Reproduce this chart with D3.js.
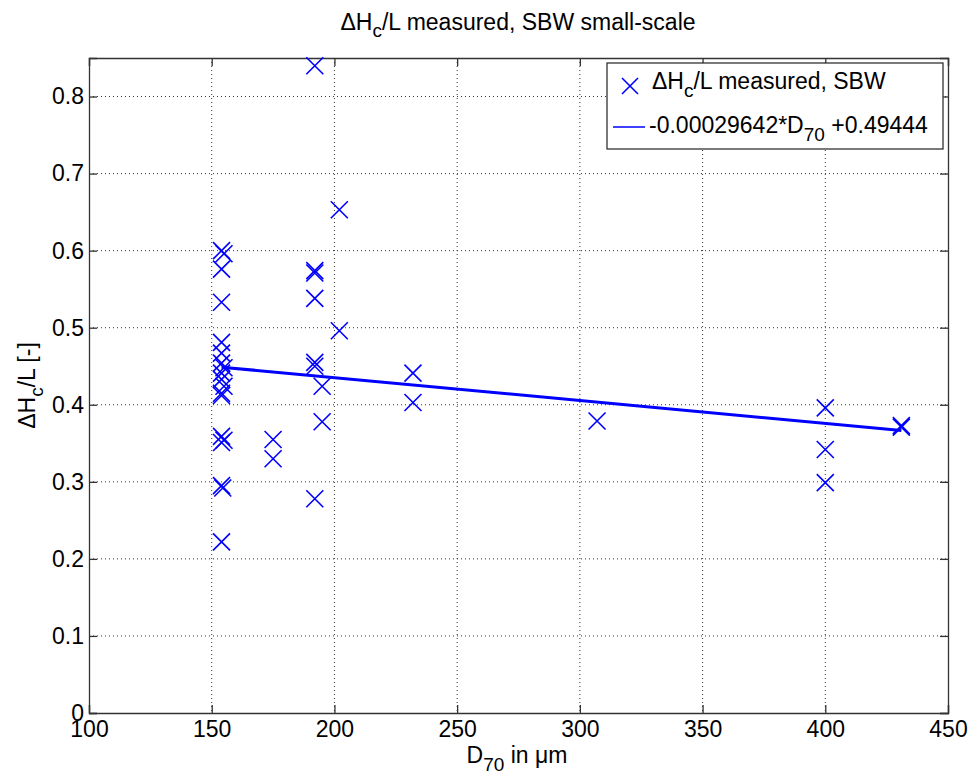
<!DOCTYPE html>
<html>
<head>
<meta charset="utf-8">
<script src="https://cdn.jsdelivr.net/npm/d3@7"></script>
<style>
  body { margin: 0; background: #fff; }
  text { font-family: "Liberation Sans", Arial, sans-serif; fill: #000; }
</style>
</head>
<body>
<svg id="chart" width="971" height="776"></svg>
<script>
// measured points (D70 in um, dHc/L)
var d70 = [154, 155, 154, 154, 154, 154, 154, 155, 154, 154, 155, 154, 154, 154, 155, 154, 154, 154.5, 154,
           175, 175,
           192, 192, 192, 192, 192, 192, 192,
           195, 195,
           202, 202,
           232, 232,
           307,
           400, 400, 400,
           431, 431];
var dhc = [0.600, 0.596, 0.576, 0.533, 0.481, 0.467, 0.454, 0.448, 0.441, 0.433, 0.424, 0.415, 0.412, 0.359, 0.354, 0.351, 0.295, 0.292, 0.222,
           0.355, 0.330,
           0.840, 0.574, 0.571, 0.538, 0.455, 0.450, 0.278,
           0.424, 0.378,
           0.653, 0.496,
           0.441, 0.403,
           0.379,
           0.396, 0.342, 0.299,
           0.373, 0.371];
var fitSlope = -0.00029642;
var fitIntercept = 0.49444;
var xTicks = [100, 150, 200, 250, 300, 350, 400, 450];
var yTicks = [0, 0.1, 0.2, 0.3, 0.4, 0.5, 0.6, 0.7, 0.8];

var svg = d3.select("#chart");
var L = 89, R = 948, T = 58, B = 713;
var x = d3.scaleLinear().domain([100, 450]).range([L, R]);
var y = d3.scaleLinear().domain([0, 0.85]).range([B, T]);
var blue = "#0000ff";
var fs = 23, sub = 19;

// grid (dotted)
svg.append("g").selectAll("line.gx").data(xTicks.slice(1, -1)).enter().append("line")
    .attr("x1", function(d){ return x(d); }).attr("x2", function(d){ return x(d); })
    .attr("y1", T).attr("y2", B)
    .attr("stroke", "#333").attr("stroke-width", 1).attr("stroke-dasharray", "1,3");
svg.append("g").selectAll("line.gy").data(yTicks.slice(1)).enter().append("line")
    .attr("y1", function(d){ return y(d); }).attr("y2", function(d){ return y(d); })
    .attr("x1", L).attr("x2", R)
    .attr("stroke", "#333").attr("stroke-width", 1).attr("stroke-dasharray", "1,3");

// axes, ticks inward
var tk = 8;
svg.append("g").attr("transform", "translate(0," + B + ")")
    .call(d3.axisBottom(x).tickValues(xTicks).tickSize(-tk).tickPadding(8).tickFormat(d3.format("d")));
svg.append("g").attr("transform", "translate(0," + T + ")")
    .call(d3.axisTop(x).tickValues(xTicks).tickSize(-tk).tickFormat(""));
svg.append("g").attr("transform", "translate(" + L + ",0)")
    .call(d3.axisLeft(y).tickValues(yTicks).tickSize(-tk).tickPadding(5).tickFormat(function(d){ return d === 0 ? "0" : d3.format(".1f")(d); }));
svg.append("g").attr("transform", "translate(" + R + ",0)")
    .call(d3.axisRight(y).tickValues(yTicks).tickSize(-tk).tickFormat(""));
svg.selectAll(".domain").attr("stroke", "#333").attr("stroke-width", 1.3);
svg.selectAll(".tick line").attr("stroke", "#333").attr("stroke-width", 1.3);
svg.selectAll(".tick text").attr("font-size", fs).attr("font-family", "Liberation Sans, Arial, sans-serif").attr("fill", "#000");

// fit line
var xMin = d3.min(d70), xMax = d3.max(d70);
svg.append("line")
    .attr("x1", x(xMin)).attr("y1", y(fitSlope * xMin + fitIntercept))
    .attr("x2", x(xMax)).attr("y2", y(fitSlope * xMax + fitIntercept))
    .attr("stroke", blue).attr("stroke-width", 3);

// crosses
function cross(g, cx, cy, s){
    g.append("path")
        .attr("d", "M" + (cx - s) + "," + (cy - s) + "L" + (cx + s) + "," + (cy + s) +
                   "M" + (cx - s) + "," + (cy + s) + "L" + (cx + s) + "," + (cy - s))
        .attr("stroke", blue).attr("stroke-width", 1.6).attr("fill", "none");
}
var pts = svg.append("g");
d70.forEach(function(d, i){ cross(pts, x(d), y(dhc[i]), 8.5); });

// text with subscript
function subText(sel, a, s, b, dy){
    sel.append("tspan").text(a);
    sel.append("tspan").attr("dy", dy).attr("font-size", sub).text(s);
    sel.append("tspan").attr("dy", -dy).text(b);
}

// title
subText(svg.append("text").attr("x", 518).attr("y", 30).attr("text-anchor", "middle").attr("font-size", fs),
    "ΔH", "c", "/L measured, SBW small-scale", 7);

// x label
subText(svg.append("text").attr("x", 517).attr("y", 763).attr("text-anchor", "middle").attr("font-size", fs),
    "D", "70", " in μm", 8);

// y label
subText(svg.append("text").attr("transform", "translate(35," + ((T + B) / 2) + ") rotate(-90)")
    .attr("text-anchor", "middle").attr("font-size", fs), "ΔH", "c", "/L [-]", 8);

// legend
var lg = svg.append("g");
lg.append("rect").attr("x", 607).attr("y", 63).attr("width", 336).attr("height", 86)
    .attr("fill", "#fff").attr("stroke", "#333").attr("stroke-width", 1.3);
cross(lg, 630, 86, 8);
subText(lg.append("text").attr("x", 652).attr("y", 89).attr("font-size", fs), "ΔH", "c", "/L measured, SBW", 8);
lg.append("line").attr("x1", 613).attr("x2", 645).attr("y1", 127).attr("y2", 127)
    .attr("stroke", blue).attr("stroke-width", 1.5);
subText(lg.append("text").attr("x", 649).attr("y", 133).attr("font-size", fs), "-0.00029642*D", "70", " +0.49444", 8);
</script>
</body>
</html>
